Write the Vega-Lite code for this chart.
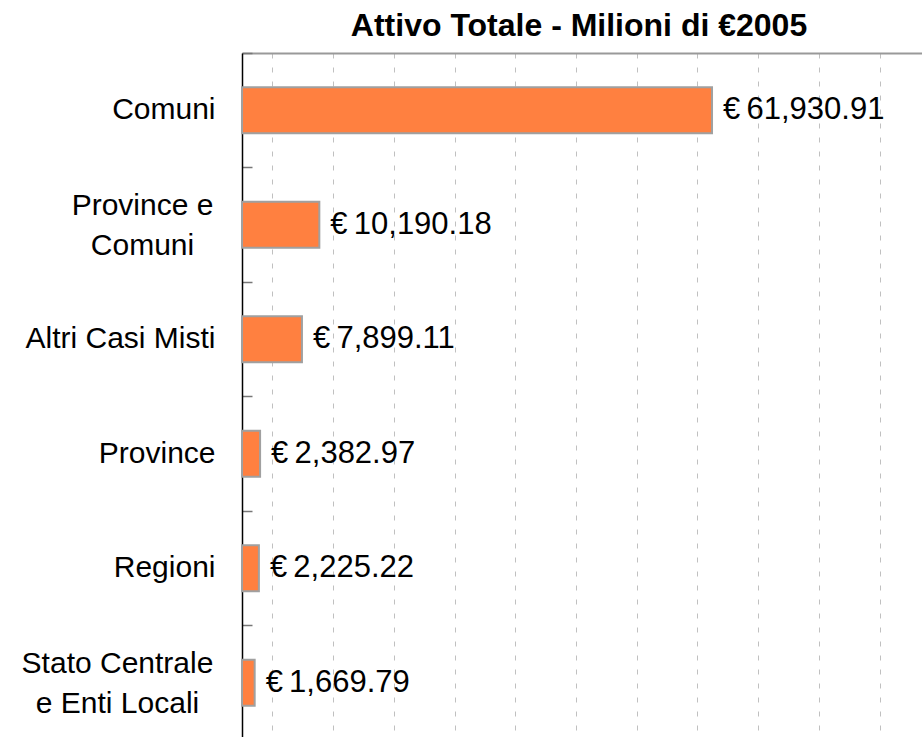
{
  "$schema": "https://vega.github.io/schema/vega-lite/v6.json",
  "width": 680,
  "height": 687,
  "autosize": "none",
  "padding": {"left": 242, "top": 53, "right": 0, "bottom": 0},
  "background": "white",
  "config": {
    "view": {"stroke": null},
    "font": "Liberation Sans",
    "locale": {"number": {"decimal": ".", "thousands": ",", "grouping": [3], "currency": ["€\u2009", ""]}}
  },
  "title": {
    "text": "Attivo Totale - Milioni di €2005",
    "fontSize": 32,
    "fontWeight": "bold",
    "font": "Liberation Sans",
    "color": "black",
    "anchor": "middle",
    "baseline": "alphabetic",
    "offset": -16,
    "dx": -3
  },
  "data": {
    "values": [
      {"ente": "Comuni", "attivo": 61930.91},
      {"ente": "Province e\nComuni", "attivo": 10190.18},
      {"ente": "Altri Casi Misti", "attivo": 7899.11},
      {"ente": "Province", "attivo": 2382.97},
      {"ente": "Regioni", "attivo": 2225.22},
      {"ente": "Stato Centrale\ne Enti Locali", "attivo": 1669.79}
    ]
  },
  "encoding": {
    "y": {
      "field": "ente",
      "type": "nominal",
      "sort": null,
      "scale": {"paddingInner": 0, "paddingOuter": 0},
      "axis": {
        "title": null,
        "orient": "left",
        "domainColor": "black",
        "domainWidth": 1.5,
        "bandPosition": 0,
        "tickSize": -10,
        "tickColor": "#777777",
        "tickWidth": 1.5,
        "labelFontSize": 30,
        "labelFont": "Liberation Sans",
        "labelColor": "black",
        "labelLimit": 300,
        "labelLineHeight": 40,
        "labelExpr": "split(datum.label, '\\n')",
        "labelAlign": {"condition": {"test": "indexof(datum.value, '\\n') >= 0", "value": "center"}, "value": "right"},
        "labelPadding": {"expr": "indexof(datum.value, 'Stato') === 0 ? 135 : (indexof(datum.value, '\\n') >= 0 ? 110 : 37)"},
        "labelOffset": {"condition": {"test": "indexof(datum.value, '\\n') >= 0", "value": -19}, "value": 0}
      }
    }
  },
  "layer": [
    {
      "mark": {"type": "bar", "size": 46, "fill": "#FF8040", "stroke": "#A0A0A0", "strokeWidth": 2},
      "encoding": {
        "x": {
          "field": "attivo",
          "type": "quantitative",
          "scale": {"domain": [0, 89600], "nice": false},
          "axis": {
            "orient": "top",
            "title": null,
            "labels": false,
            "ticks": false,
            "domain": true,
            "domainColor": "#999999",
            "domainWidth": 2,
            "grid": true,
            "gridColor": "#c0c0c0",
            "gridDash": [5, 9],
            "gridWidth": 1,
            "values": [4000, 8000, 12000, 16000, 20000, 24000, 28000, 32000, 36000, 40000, 44000, 48000, 52000, 56000, 60000, 64000, 68000, 72000, 76000, 80000, 84000, 88000]
          }
        }
      }
    },
    {
      "mark": {"type": "text", "align": "left", "baseline": "middle", "dx": 11, "fontSize": 31, "font": "Liberation Sans", "color": "black"},
      "encoding": {
        "x": {"field": "attivo", "type": "quantitative"},
        "text": {"field": "attivo", "type": "quantitative", "format": "$,.2f"}
      }
    }
  ]
}
